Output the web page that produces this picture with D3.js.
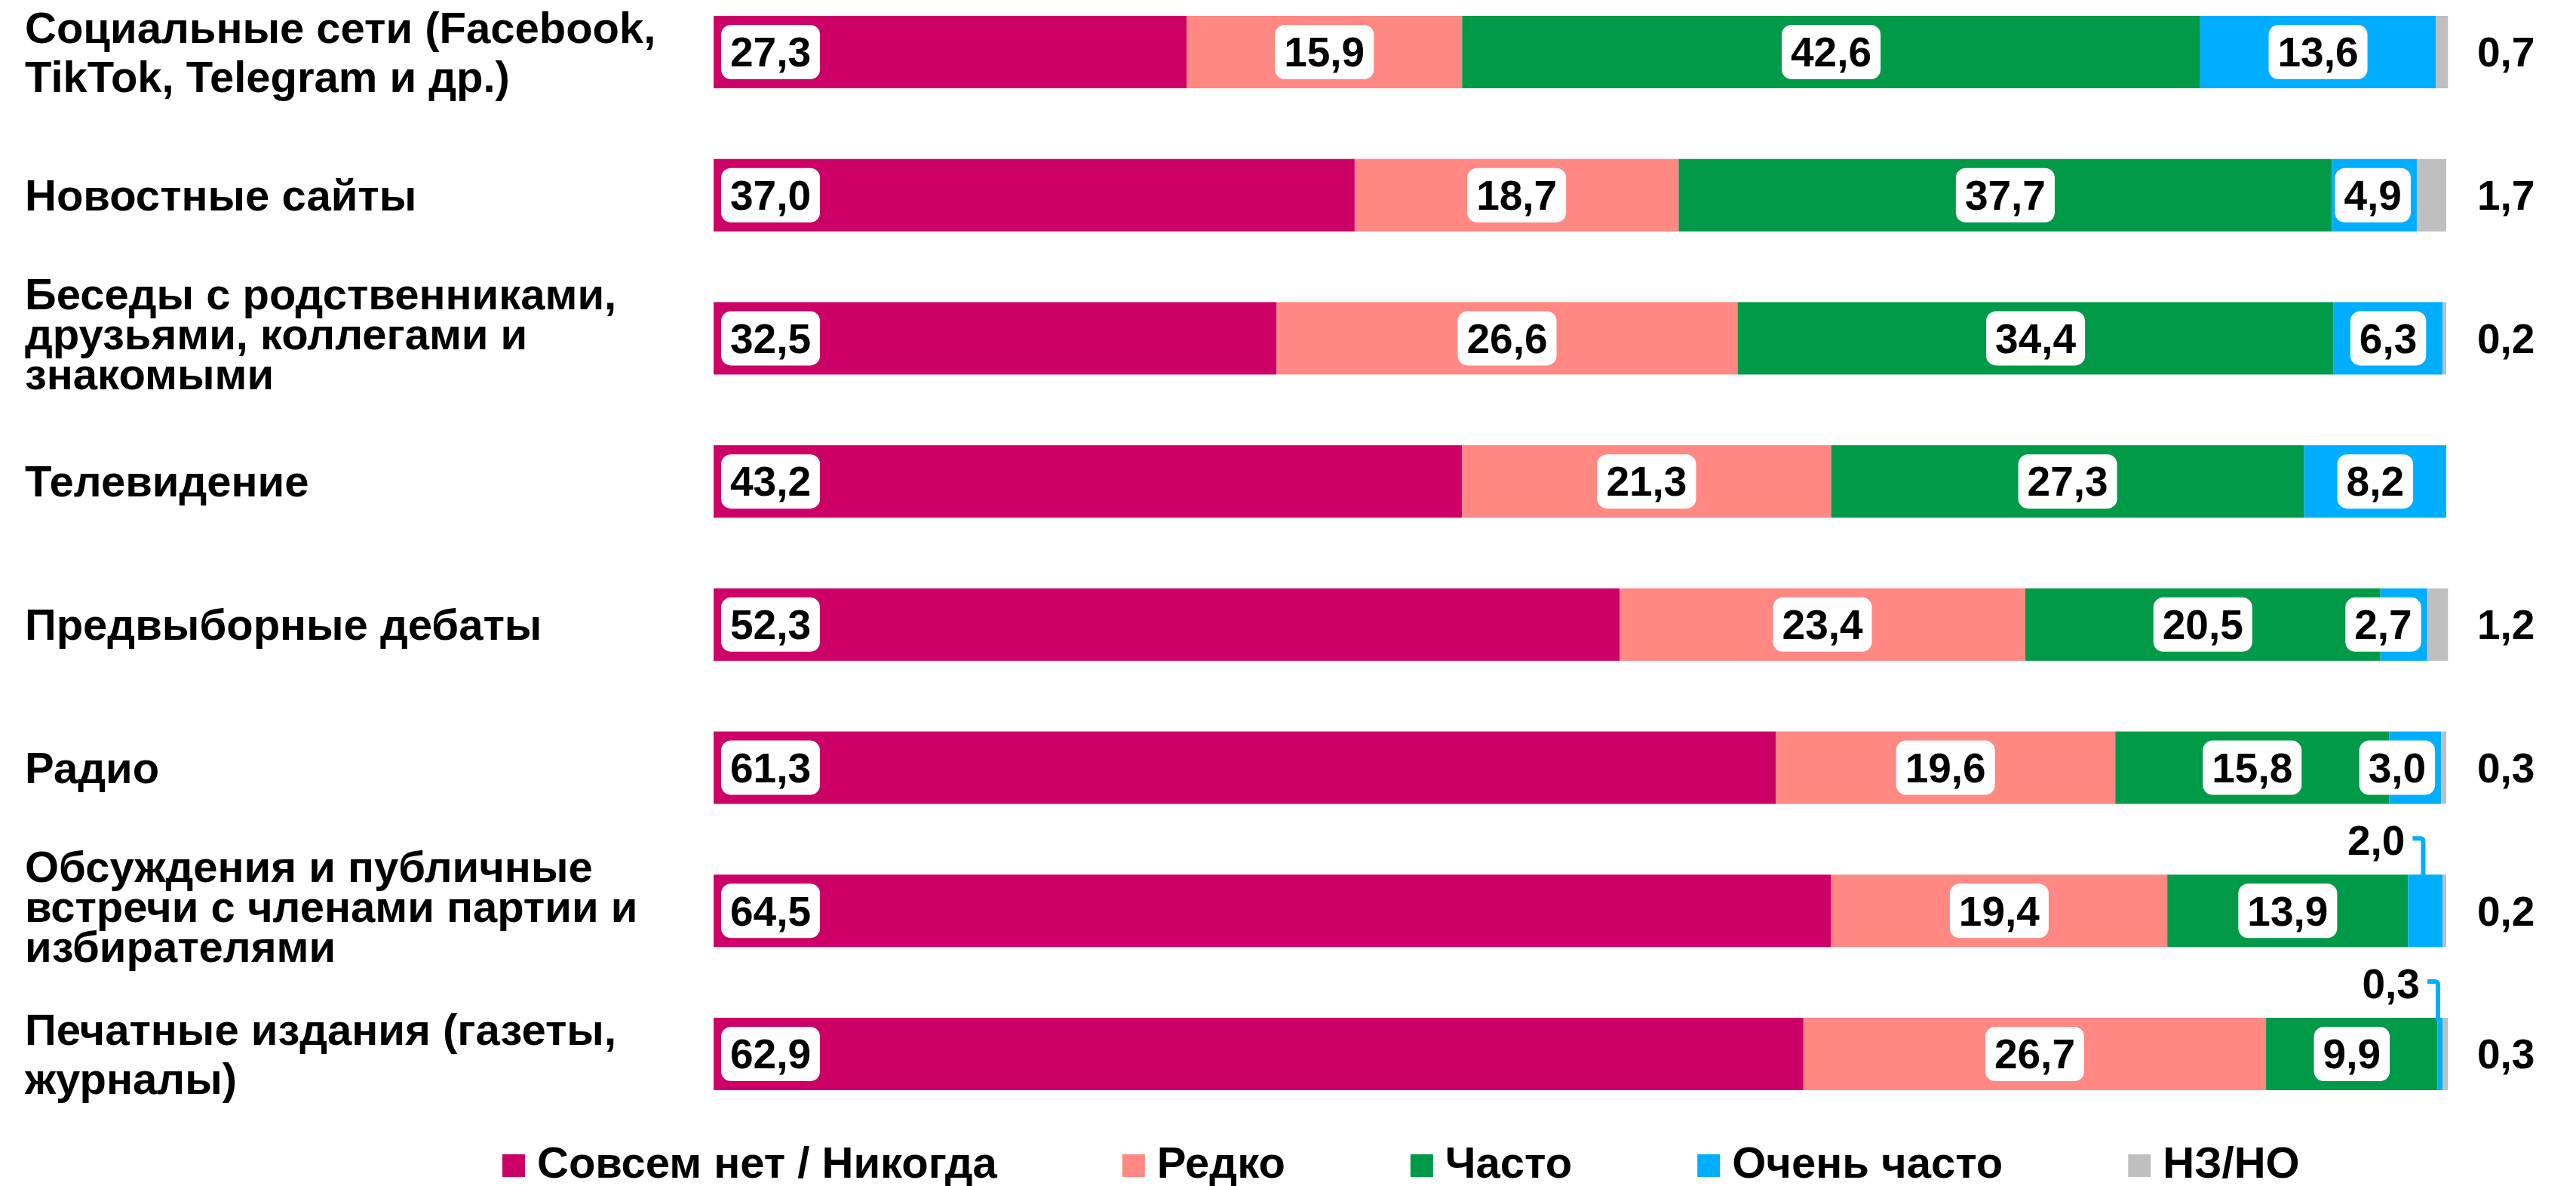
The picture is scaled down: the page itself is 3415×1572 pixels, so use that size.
<!DOCTYPE html>
<html>
<head>
<meta charset="utf-8">
<script src="https://cdn.jsdelivr.net/npm/d3@7"></script>
<style>
  body { margin: 0; background: #fff; }
  text { font-family: "Liberation Sans", Arial, sans-serif; font-weight: bold; fill: #000; }
</style>
</head>
<body>
<div id="chart"></div>
<script>
// данные
const categories = [
    "Социальные сети (Facebook,\nTikTok, Telegram и др.)",
    "Новостные сайты",
    "Беседы с родственниками,\nдрузьями, коллегами и\nзнакомыми",
    "Телевидение",
    "Предвыборные дебаты",
    "Радио",
    "Обсуждения и публичные\nвстречи с членами партии и\nизбирателями",
    "Печатные издания (газеты,\nжурналы)"
];
const seriesNames = ["Совсем нет / Никогда", "Редко", "Часто", "Очень часто", "НЗ/НО"];
const never = [27.3, 37.0, 32.5, 43.2, 52.3, 61.3, 64.5, 62.9];
const rarely = [15.9, 18.7, 26.6, 21.3, 23.4, 19.6, 19.4, 26.7];
const often = [42.6, 37.7, 34.4, 27.3, 20.5, 15.8, 13.9, 9.9];
const veryOften = [13.6, 4.9, 6.3, 8.2, 2.7, 3.0, 2.0, 0.3];
const dkna = [0.7, 1.7, 0.2, null, 1.2, 0.3, 0.2, 0.3];

const colors = ["#CC0066", "#FF8882", "#009A49", "#00AEFF", "#BFBFBF"];

const WIDTH = 3415;
const HEIGHT = 1572;
const SVG = d3.select("#chart").append("svg").attr("width", WIDTH).attr("height", HEIGHT);

const seriesValues = [never, rarely, often, veryOften, dkna];
const rows = categories.map((c, i) => {
    const r = { cat: c };
    seriesNames.forEach((s, k) => r[s] = seriesValues[k][i] == null ? 0 : seriesValues[k][i]);
    return r;
});
const stacked = d3.stack().keys(seriesNames)(rows);

const x = d3.scaleLinear().domain([0, 100]).range([946, 3243]);
const y = d3.scaleBand().domain(categories).range([21, 1445]).paddingInner(0.494).paddingOuter(0);
const color = d3.scaleOrdinal().domain(seriesNames).range(colors);
const fmt = v => d3.format(".1f")(v).replace(".", ",");

// Подписи категорий
const catG = SVG.append("g");
categories.forEach(c => {
    const lines = c.split("\n");
    const lh = lines.length === 3 ? 53 : 65;
    const shift = lines.length === 3 ? -6 : 0;
    const cy = y(c) + y.bandwidth() / 2 + shift;
    const t = catG.append("text").attr("x", 33).style("font-size", "58px");
    lines.forEach((l, j) => {
        t.append("tspan")
            .attr("x", 33)
            .attr("y", cy + (j - (lines.length - 1) / 2) * lh)
            .attr("dy", "0.35em")
            .text(l);
    });
});

// Сегменты
SVG.append("g").selectAll("g")
    .data(stacked)
    .join("g")
    .attr("fill", d => color(d.key))
    .selectAll("rect")
    .data(d => d)
    .join("rect")
    .attr("x", d => x(d[0]))
    .attr("y", d => y(d.data.cat))
    .attr("width", d => x(d[1]) - x(d[0]))
    .attr("height", y.bandwidth());

// Подписи значений
const labG = SVG.append("g");
stacked.forEach((s, k) => {
    s.forEach(d => {
        const v = d.data[s.key];
        if (!v) return;
        const top = y(d.data.cat);
        const cy = top + y.bandwidth() / 2;
        const x0 = x(d[0]), x1 = x(d[1]);

        if (k === 4) {
            labG.append("text")
                .attr("x", x(100) + 41)
                .attr("y", cy)
                .attr("dy", "0.35em")
                .style("font-size", "55px")
                .text(fmt(v));
            return;
        }

        if (k === 3 && v < 2.5) {
            // выноска над столбцом
            const lx = (x0 + x1) / 2 - 3;
            labG.append("path")
                .attr("d", `M${lx},${top + 4} L${lx},${top - 44} Q${lx},${top - 48} ${lx - 4},${top - 48} L${lx - 14},${top - 48}`)
                .attr("fill", "none")
                .attr("stroke", colors[3])
                .attr("stroke-width", 6);
            labG.append("text")
                .attr("x", lx - 24)
                .attr("y", top - 26)
                .attr("text-anchor", "end")
                .style("font-size", "55px")
                .text(fmt(v));
            return;
        }

        const g = labG.append("g");
        const t = g.append("text")
            .attr("y", cy)
            .attr("dy", "0.35em")
            .attr("text-anchor", "middle")
            .style("font-size", "55px")
            .text(fmt(v));
        const tw = t.node().getComputedTextLength();
        const bw = tw + 24, bh = 72;
        let bx;
        if (k === 0) bx = x0 + 10;
        else {
            bx = (x0 + x1) / 2 - bw / 2;
            if (bx + bw > x1 - 8) bx = x1 - 8 - bw;
        }
        t.attr("x", bx + bw / 2);
        g.insert("rect", "text")
            .attr("x", bx)
            .attr("y", cy - bh / 2)
            .attr("width", bw)
            .attr("height", bh)
            .attr("rx", 13)
            .attr("fill", "#fff");
    });
});

// Легенда
const legend = SVG.append("g");
let lx = 666;
seriesNames.forEach((s, k) => {
    legend.append("rect")
        .attr("x", lx)
        .attr("y", 1530)
        .attr("width", 30)
        .attr("height", 30)
        .attr("fill", colors[k]);
    const t = legend.append("text")
        .attr("x", lx + 46)
        .attr("y", 1561)
        .style("font-size", "58px")
        .text(s);
    lx += 46 + t.node().getComputedTextLength() + 166;
});
</script>
</body>
</html>
